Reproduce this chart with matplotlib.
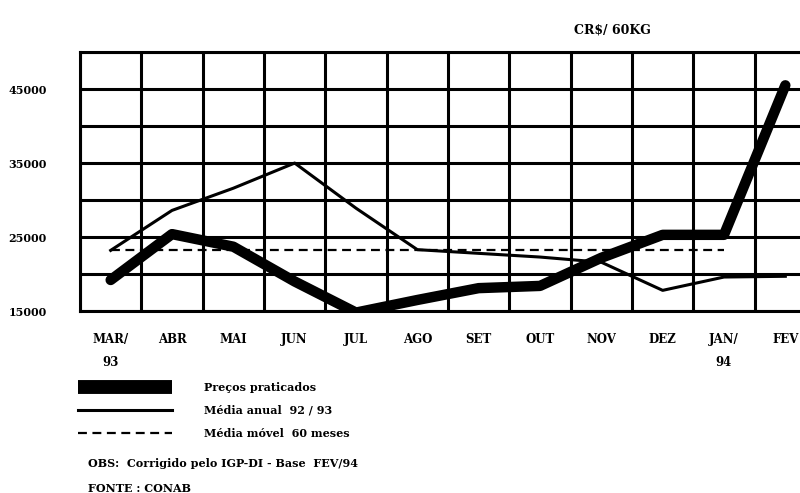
import matplotlib
matplotlib.use("Agg")
import numpy as np
from matplotlib import pyplot as plt

# months, MAR/93 .. FEV/94
meses = ["MAR/\n93", "ABR", "MAI", "JUN", "JUL", "AGO", "SET", "OUT",
         "NOV", "DEZ", "JAN/\n94", "FEV"]

# CR$/60kg
precos_praticados = [19200, 25400, 23700, 19000, 14800, 16500, 18100, 18400,
                     22200, 25300, 25300, 45500]
media_anual = [23200, 28600, 31600, 35000, 28900, 23300, 22800, 22300,
               21600, 17800, 19600, 19700]
media_movel = [23200, 23200, 23200, 23200, 23200, 23200, 23200, 23200,
               23200, 23200, 23200]

y_ticks = [15000, 25000, 35000, 45000]

plt.rcParams["font.family"] = "DejaVu Serif"
plt.rcParams["font.weight"] = "bold"

fig = plt.figure(figsize=(8, 4.93), dpi=100)
ax = fig.add_axes([0.1, 0.369, 0.92, 0.5255])

x = np.arange(len(meses))
ax.plot(x, precos_praticados, color="black", lw=7.5, solid_joinstyle="round",
        solid_capstyle="round", label="Preços praticados", zorder=4)
ax.plot(x, media_anual, color="black", lw=2.2, label="Média anual  92 / 93", zorder=3)
ax.plot(x[:len(media_movel)], media_movel, color="black", lw=1.6,
        linestyle=(0, (4, 2.5)), label="Média móvel  60 meses", zorder=3)

ax.set_xlim(-0.5, 11.5)
ax.set_ylim(15000, 50000)

# grid: columns between months, rows every 5000
ax.set_xticks(x)
ax.set_xticklabels(meses, fontsize=8.5, fontweight="bold", linespacing=2.0, va="top")
ax.set_xticks(np.arange(-0.5, 11.6, 1), minor=True)
ax.set_yticks(y_ticks)
ax.set_yticklabels([str(v) for v in y_ticks], fontsize=8, fontweight="bold")
ax.set_yticks(np.arange(20000, 50001, 10000), minor=True)
ax.xaxis.grid(which="minor", color="black", lw=2.2)
ax.yaxis.grid(which="both", color="black", lw=2.2)
ax.tick_params(which="both", length=0)
ax.tick_params(axis="x", pad=16)
ax.tick_params(axis="y", pad=24)
for s in ax.spines.values():
    s.set_linewidth(2.2)

fig.text(0.765, 0.94, "CR\\$/ 60KG", ha="center", va="center", fontsize=9, fontweight="bold")

leg = fig.legend(loc="upper left", bbox_to_anchor=(0.085, 0.245), frameon=False,
                 handlelength=8.5, handletextpad=2.8, labelspacing=1.05,
                 prop={"weight": "bold", "size": 8})
leg.get_lines()[0].set_solid_capstyle("butt")
leg.get_lines()[0].set_linewidth(10)

fig.text(0.11, 0.06, "OBS:  Corrigido pelo IGP-DI - Base  FEV/94", fontsize=8,
         fontweight="bold", va="center")
fig.text(0.11, 0.01, "FONTE : CONAB", fontsize=8, fontweight="bold", va="center")

fig.savefig("out.png", dpi=100, facecolor="white")
